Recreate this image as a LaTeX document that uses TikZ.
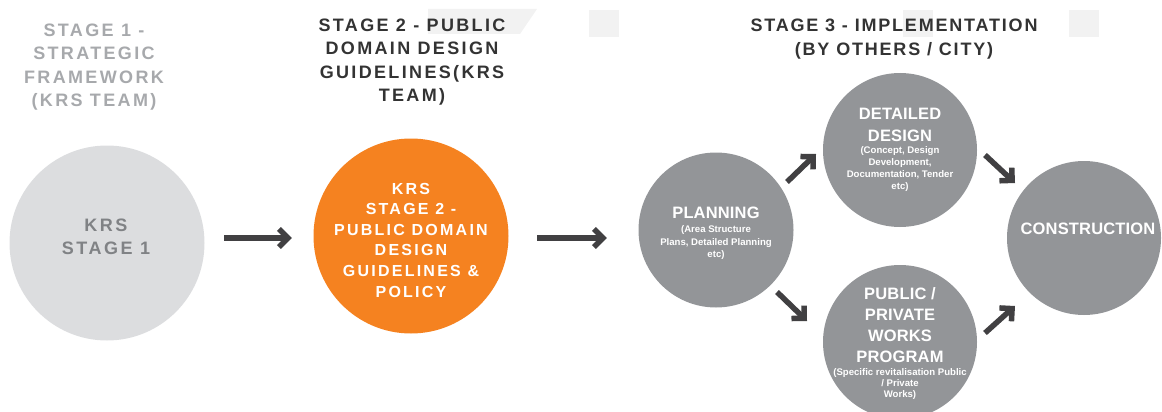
\documentclass[tikz,border=0pt]{standalone}
\usepackage{fontspec}
\setmainfont{Liberation Sans}
\newfontfamily\ttlfont[LetterSpace=13]{Liberation Sans}
\newfontfamily\ttlfontb[LetterSpace=10]{Liberation Sans}
\newfontfamily\krsfont[LetterSpace=14]{Liberation Sans}
\newfontfamily\cirfont[LetterSpace=1]{Liberation Sans}
\usetikzlibrary{arrows.meta}
\definecolor{lightc}{HTML}{DCDDDF}
\definecolor{orangec}{HTML}{F58220}
\definecolor{midc}{HTML}{939598}
\definecolor{arrc}{HTML}{414042}
\definecolor{t1c}{HTML}{A7A9AC}
\definecolor{t2c}{HTML}{333333}
\definecolor{krsc}{HTML}{808285}
\definecolor{wmc}{HTML}{F2F2F2}
\tikzset{
  disc/.style={circle,inner sep=0pt,draw=none},
  ttl/.style={align=center,inner sep=0pt,font=\ttlfont\bfseries\fontsize{18}{23.5}\selectfont},
  big/.style={align=center,inner sep=0pt,text=white,font=\cirfont\bfseries\fontsize{16.5}{22.5}\selectfont},
  sml/.style={align=center,inner sep=0pt,text=white,font=\bfseries\fontsize{9.6}{11.7}\selectfont},
  arr/.style={draw=arrc,line width=5.5pt,-{Straight Barb[length=9pt,width=18pt]}}
}
\begin{document}
\begin{tikzpicture}[x=1pt,y=-1pt]
\useasboundingbox (0,0) rectangle (1162,412);
% faint watermark pieces
\fill[wmc] (428,9) -- (537,9) -- (520,34) -- (428,34) -- cycle;
\fill[wmc] (589,10) rectangle (619,37);
\fill[wmc] (903,10) rectangle (933,37);
\fill[wmc] (1069,10) rectangle (1099,37);
% titles
\node[ttl,text=t1c] (t1) at (94,67) {STAGE 1 -\\STRATEGIC\\FRAMEWORK\\(KRS TEAM)};
\node[ttl,text=t2c] (t2) at (412,62) {STAGE 2 - PUBLIC\\DOMAIN DESIGN\\GUIDELINES(KRS\\TEAM)};
\node[ttl,text=t2c,font=\ttlfontb\bfseries\fontsize{18}{23.5}\selectfont] (t3) at (894,39) {STAGE 3 - IMPLEMENTATION\\(BY OTHERS / CITY)};
% circles
\node[disc,fill=lightc,minimum size=195pt] (s1) at (107,243) {};
\node[disc,fill=orangec,minimum size=195pt] (s2) at (411,236) {};
\node[disc,fill=midc,minimum size=155pt] (pl) at (716,230) {};
\node[disc,fill=midc,minimum size=154pt] (dd) at (900,150) {};
\node[disc,fill=midc,minimum size=154pt] (pp) at (900,342) {};
\node[disc,fill=midc,minimum size=154pt] (co) at (1084,238) {};
% circle texts
\node[align=center,inner sep=0pt,text=krsc,font=\krsfont\bfseries\fontsize{18}{23}\selectfont] (s1t) at (106,237) {KRS\\STAGE 1};
\node[align=center,inner sep=0pt,text=white,font=\krsfont\bfseries\fontsize{16}{20.6}\selectfont] (s2t) at (411,240) {KRS\\STAGE 2 -\\PUBLIC DOMAIN\\DESIGN\\GUIDELINES \&\\POLICY};
\node[big] (plb) at (716,213) {PLANNING};
\node[sml,font=\bfseries\fontsize{9.6}{12.5}\selectfont] (pls) at (716,243) {(Area Structure\\Plans, Detailed Planning\\etc)};
\node[big] (ddb) at (900,125) {DETAILED\\DESIGN};
\node[sml] (dds) at (900,169) {(Concept, Design\\Development,\\Documentation, Tender\\etc)};
\node[big,font=\cirfont\bfseries\fontsize{16.5}{21}\selectfont] (ppb) at (900,325) {PUBLIC /\\PRIVATE\\WORKS\\PROGRAM};
\node[sml,font=\bfseries\fontsize{9.6}{11}\selectfont] (pps) at (900,384) {(Specific revitalisation Public\\/ Private\\Works)};
\node[big] (cob) at (1088,229) {CONSTRUCTION};
% arrows
\draw[arr] ([xshift=19.5pt,yshift=5pt]s1.east) -- ([xshift=-21.5pt,yshift=-2pt]s2.west);
\draw[arr] ([xshift=28.5pt,yshift=-2pt]s2.east) -- ([xshift=-31.5pt,yshift=-8pt]pl.west);
\draw[arr] ([shift={(71,-48)}]pl.center) -- ([shift={(-84,4)}]dd.center);
\draw[arr] ([shift={(85,5)}]dd.center) -- ([shift={(-69,-55)}]co.center);
\draw[arr] ([shift={(61,62)}]pl.center) -- ([shift={(-93,-21)}]pp.center);
\draw[arr] ([shift={(85,-9)}]pp.center) -- ([shift={(-69,68)}]co.center);
\end{tikzpicture}
\end{document}
